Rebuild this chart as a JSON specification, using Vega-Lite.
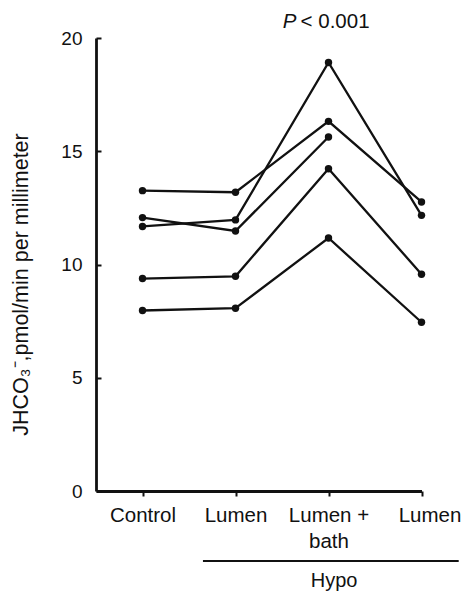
{
  "$schema": "https://vega.github.io/schema/vega-lite/v6.json",
  "width": 325.5,
  "height": 453,
  "autosize": "none",
  "padding": {"left": 96, "top": 38, "right": 41.5, "bottom": 103},
  "background": "white",
  "config": {
    "view": {"stroke": null},
    "font": "Liberation Sans",
    "axis": {
      "grid": false,
      "domainColor": "#111",
      "domainWidth": 2.8,
      "tickColor": "#111",
      "tickWidth": 2,
      "labelColor": "#111",
      "titleColor": "#111",
      "labelFont": "Liberation Sans",
      "titleFont": "Liberation Sans"
    }
  },
  "data": {
    "values": [
      {"subject": "S1", "step": 0, "value": 13.26},
      {"subject": "S1", "step": 1, "value": 13.19},
      {"subject": "S1", "step": 2, "value": 16.32},
      {"subject": "S1", "step": 3, "value": 12.76},
      {"subject": "S2", "step": 0, "value": 11.68},
      {"subject": "S2", "step": 1, "value": 11.97},
      {"subject": "S2", "step": 2, "value": 18.92},
      {"subject": "S2", "step": 3, "value": 12.17},
      {"subject": "S3", "step": 0, "value": 12.07},
      {"subject": "S3", "step": 1, "value": 11.48},
      {"subject": "S3", "step": 2, "value": 15.63},
      {"subject": "S4", "step": 0, "value": 9.38},
      {"subject": "S4", "step": 1, "value": 9.48},
      {"subject": "S4", "step": 2, "value": 14.23},
      {"subject": "S4", "step": 3, "value": 9.57},
      {"subject": "S5", "step": 0, "value": 7.97},
      {"subject": "S5", "step": 1, "value": 8.07},
      {"subject": "S5", "step": 2, "value": 11.17},
      {"subject": "S5", "step": 3, "value": 7.45}
    ]
  },
  "layer": [
    {
      "mark": {"type": "line", "color": "#111", "strokeWidth": 2.3},
      "encoding": {
        "x": {
          "field": "step",
          "type": "quantitative",
          "scale": {"domain": [-0.5, 3], "nice": false, "zero": false},
          "axis": {
            "values": [0, 1, 2, 3],
            "title": null,
            "tickSize": 5,
            "labelFontSize": 20.5,
            "labelPadding": 9,
            "labelLineHeight": 26,
            "labelBound": false,
            "labelFlush": false,
            "labelOverlap": false,
            "labelOffset": {"condition": {"test": "datum.value == 3", "value": 8}, "value": 0},
            "labelExpr": "datum.value == 0 ? 'Control' : datum.value == 2 ? ['Lumen +', 'bath'] : 'Lumen'"
          }
        },
        "y": {
          "field": "value",
          "type": "quantitative",
          "scale": {"domain": [0, 20], "nice": false},
          "axis": {
            "values": [0, 5, 10, 15, 20],
            "title": "JHCO₃⁻,pmol/min per millimeter",
            "titleFontSize": 21.5,
            "titleFontWeight": "normal",
            "titleX": -74.5,
            "titleY": 246,
            "titleBaseline": "middle",
            "tickSize": -5,
            "labelFontSize": 19,
            "labelPadding": 19
          }
        },
        "detail": {"field": "subject"},
        "order": {"field": "step"}
      }
    },
    {
      "mark": {"type": "circle", "color": "#111", "size": 55, "opacity": 1},
      "encoding": {
        "x": {"field": "step", "type": "quantitative"},
        "y": {"field": "value", "type": "quantitative"}
      }
    },
    {
      "data": {"values": [{}]},
      "mark": {"type": "rule", "color": "#111", "strokeWidth": 2},
      "encoding": {
        "x": {"datum": 0.65},
        "x2": {"datum": 3.4},
        "y": {"datum": -3.09}
      }
    },
    {
      "data": {"values": [{"label": "Hypo"}]},
      "mark": {"type": "text", "fontSize": 20, "color": "#111", "baseline": "middle", "align": "center"},
      "encoding": {
        "x": {"datum": 2.06},
        "y": {"datum": -3.98},
        "text": {"field": "label"}
      }
    },
    {
      "data": {"values": [{"label": "P"}]},
      "mark": {"type": "text", "fontSize": 20.5, "fontStyle": "italic", "color": "#111", "baseline": "middle", "align": "right"},
      "encoding": {
        "x": {"datum": 1.655},
        "y": {"datum": 20.69},
        "text": {"field": "label"}
      }
    },
    {
      "data": {"values": [{"label": "< 0.001"}]},
      "mark": {"type": "text", "fontSize": 20.5, "color": "#111", "baseline": "middle", "align": "left"},
      "encoding": {
        "x": {"datum": 1.70},
        "y": {"datum": 20.69},
        "text": {"field": "label"}
      }
    }
  ]
}
